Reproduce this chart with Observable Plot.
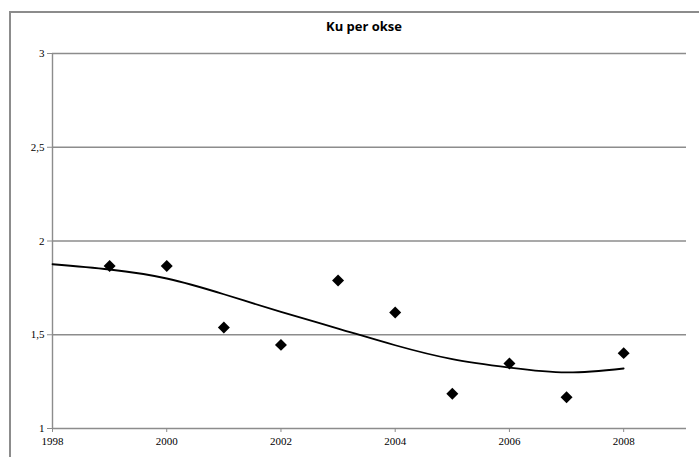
<!DOCTYPE html>
<html><head><meta charset="utf-8">
<script src="https://cdn.jsdelivr.net/npm/d3@7"></script>
<script src="https://cdn.jsdelivr.net/npm/@observablehq/plot@0.6"></script>
<style>
body{margin:0;background:#fff;}
#wrap{position:relative;width:699px;height:457px;overflow:hidden;}
#border{position:absolute;left:9px;top:11px;width:800px;height:800px;border-left:2px solid #8c8c8c;border-top:2px solid #8c8c8c;box-sizing:border-box;}
#title{position:absolute;left:0;width:728px;top:17px;text-align:center;font-family:"Open Sans",sans-serif;font-weight:bold;font-size:13px;color:#000;}
#chart{position:absolute;left:0;top:0;}
#chart svg text, #chart svg g{font-family:"Liberation Serif","DejaVu Serif",serif !important;}
</style></head>
<body><div id="wrap"><div id="border"></div><div id="title">Ku per okse</div><div id="chart"></div></div>
<script>
const years = [1999, 2000, 2001, 2002, 2003, 2004, 2005, 2006, 2007, 2008];
const values = [1.867, 1.867, 1.539, 1.446, 1.789, 1.619, 1.185, 1.347, 1.167, 1.402];
const trendYears = [1998, 1999, 2000, 2001, 2002, 2003, 2004, 2005, 2006, 2007, 2008];
const trendValues = [1.876, 1.848, 1.80, 1.716, 1.622, 1.533, 1.444, 1.37, 1.325, 1.299, 1.32];
const xTicks = [1998, 2000, 2002, 2004, 2006, 2008];
const yTicks = [1, 1.5, 2, 2.5, 3];

const points = years.map((y, i) => ({year: y, value: values[i]}));
const trend = trendYears.map((y, i) => ({year: y, value: trendValues[i]}));
const grid = "#8c8c8c";

const chart = Plot.plot({
  width: 699, height: 457,
  marginLeft: 52, marginRight: 13, marginTop: 53, marginBottom: 29,
  x: {domain: [1998, 2009.1]},
  y: {domain: [1, 3]},
  style: {background: "transparent", fontSize: "11px", color: "#000"},
  marks: [
    Plot.ruleY(yTicks, {stroke: grid, strokeWidth: 1.4}),
    Plot.ruleX([1998], {y1: 1, y2: 3, stroke: grid, strokeWidth: 1.4}),
    Plot.axisY({ticks: yTicks, tickSize: 5, tickPadding: 3, stroke: grid, tickFormat: d => String(d).replace(".", ","), fontSize: 11, fill: "#000", label: null}),
    Plot.axisX({ticks: xTicks, tickSize: 4, tickPadding: 5, stroke: grid, tickFormat: d => String(d), fontSize: 11, fill: "#000", label: null}),
    Plot.line(trend, {x: "year", y: "value", curve: "natural", stroke: "#000", strokeWidth: 1.8}),
    Plot.dot(points, {x: "year", y: "value", symbol: "diamond2", r: 5.4, fill: "#000", stroke: "none"})
  ]
});
document.getElementById("chart").appendChild(chart);
</script></body></html>
